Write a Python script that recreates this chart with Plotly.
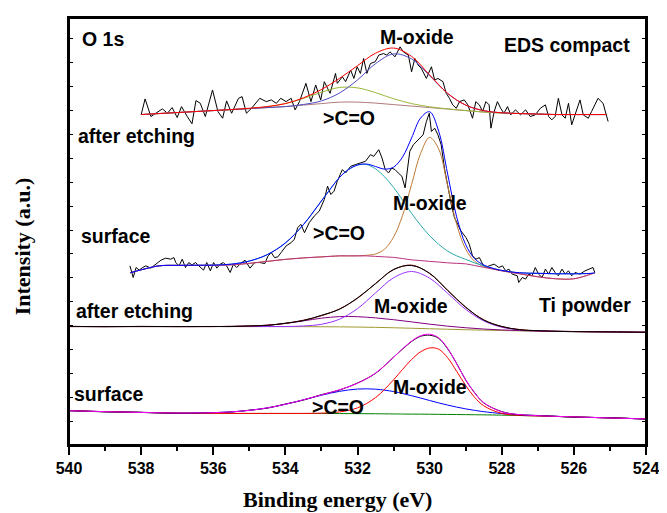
import plotly.graph_objects as go

# ---------------- Spectrum 1: EDS compact, after etching ----------------
raw1_E = [538.00, 537.89, 537.73, 537.41, 537.27, 537.14, 537.00, 536.88, 536.72, 536.59,
          536.48, 536.36, 536.22, 536.02, 535.87, 535.74, 535.63, 535.49, 535.30, 535.20,
          535.08, 534.94, 534.71, 534.53, 534.39, 534.25, 534.13, 533.98, 533.84, 533.73,
          533.61, 533.43, 533.29, 533.16, 533.02, 532.92, 532.76, 532.61,
          532.56, 532.42, 532.33, 532.19, 532.10, 532.01, 531.92, 531.83, 531.74, 531.64,
          531.51, 531.41, 531.28, 531.19, 531.10, 530.96, 530.82, 530.73, 530.59, 530.50,
          530.41, 530.32, 530.23, 530.09, 529.95, 529.86, 529.77, 529.63, 529.54, 529.45,
          529.36, 529.26, 529.17, 529.04, 528.94, 528.81, 528.72, 528.62, 528.53, 528.44,
          528.35, 528.30, 528.21, 528.12, 528.03, 527.94, 527.84, 527.75, 527.62, 527.48,
          527.34, 527.21, 527.07, 526.93, 526.79, 526.70, 526.61, 526.52, 526.43, 526.33,
          526.24, 526.15, 526.06, 525.97, 525.83, 525.74, 525.60, 525.51, 525.33, 525.19,
          525.10, 525.05]
raw1_I = [331.7, 347.7, 330, 337.7, 333.3, 339, 329, 340, 330, 322.7,
          346, 343.3, 330, 356.7, 335, 328.3, 345.7, 333.3, 348.3, 350,
          333.3, 338.3, 348.3, 345, 346.7, 343.3, 348.3, 345, 348.3, 336.7,
          345, 363.3, 345, 361.7, 346.7, 365, 353.3, 373.3,
          363.3, 370, 365, 376.7, 368.3, 380, 373.3, 388.3, 373.3, 383.3,
          385, 391.7, 393.3, 391.7, 395, 390, 400, 395, 391.7, 375,
          388.3, 381.7, 378.3, 368.3, 380, 366.7, 368.3, 365, 353.3, 348.3,
          341.7, 338.3, 345, 346.7, 341.7, 328.3, 345, 341.7, 335, 345,
          341.7, 318.3, 335, 345, 338.3, 333.3, 340, 331.7, 336.7, 331.7,
          336.7, 330, 331.7, 338.3, 341.7, 330, 326.7, 330, 348.3, 331.7,
          328.3, 343.3, 321.7, 331.7, 346.7, 331.7, 328.3, 335, 348.3, 343.3,
          331.7, 325]
fit1_E = [538.0, 537.5, 537.0, 536.5, 536.0, 535.5, 535.0, 534.5, 534.0, 533.5, 533.0,
          532.5, 532.0, 531.5, 531.0, 530.5, 530.0, 529.5, 529.0, 528.5, 528.0, 527.5,
          527.0, 526.5, 526.0, 525.5, 525.1]
bg1 = [332, 333, 334, 335, 336, 337, 338, 339, 340, 341.5, 343, 344.5, 344.5, 343.5,
       342, 340.5, 339, 337.5, 336, 334.5, 333.5, 333, 332.5, 332, 332, 332, 332]
co1 = [332, 333, 334, 335, 336, 337, 338, 340, 343, 348.2, 354.4, 359.2, 358.8, 354,
       347.9, 343, 339.8, 337.7, 336, 334.5, 333.5, 333, 332.5, 332, 332, 332, 332]
mox1 = [332, 333, 334, 335, 336, 337, 338, 339, 340, 342.1, 345.7, 353.6, 366.8, 383.1,
        392.9, 387.9, 371, 353.1, 341.5, 335.9, 333.8, 333, 332.5, 332, 332, 332, 332]
env1 = [332, 333, 334, 335, 336, 337, 338.3, 340, 343, 348.8, 357.1, 368.3, 381.1, 393.6,
        398.8, 390.4, 371.8, 353.3, 341.5, 335.9, 333.8, 333, 332.5, 332, 332, 332, 332]

# ---------------- Spectrum 2: EDS compact, surface ----------------
raw2_E = [538.31, 538.22, 538.14, 538.05, 537.96, 537.87, 537.73, 537.59, 537.45, 537.32,
          537.18, 537.09, 537.04, 536.95, 536.86, 536.77, 536.68, 536.59, 536.49, 536.40,
          536.27, 536.18, 536.08, 535.99, 535.90, 535.81, 535.72, 535.63, 535.53, 535.44,
          535.35, 535.26, 535.12, 534.98, 534.85, 534.71, 534.57, 534.48, 534.39, 534.30,
          534.21, 534.12, 533.98, 533.84, 533.75, 533.66, 533.57, 533.47, 533.34, 533.20,
          533.06, 532.92, 532.83, 532.74, 532.65,
          532.56, 532.42, 532.33, 532.19, 532.06, 531.92, 531.78, 531.64, 531.55, 531.41,
          531.32, 531.23, 531.14, 531.05, 530.96, 530.87, 530.77, 530.68, 530.64, 530.55,
          530.45, 530.32, 530.18, 530.09, 530.01, 529.95, 529.86, 529.77, 529.68, 529.59,
          529.49, 529.40, 529.31, 529.22, 529.13, 528.99, 528.90, 528.81, 528.72, 528.62,
          528.53, 528.44, 528.35, 528.21, 528.08, 527.98, 527.89, 527.80, 527.71, 527.57,
          527.53, 527.43, 527.34, 527.25, 527.16, 527.07, 526.98, 526.88, 526.79, 526.70,
          526.61, 526.52, 526.43, 526.33, 526.24, 526.15, 526.06, 525.97, 525.83, 525.69,
          525.56, 525.47, 525.42]
raw2_I = [180, 168.3, 178.3, 175.7, 178.3, 180, 177.7, 181.7, 185.7, 187.7,
          186.7, 188.3, 183.3, 180, 186.7, 178.3, 183.3, 181, 183.3, 180,
          175.7, 183.3, 175, 183.3, 177.7, 181.7, 183.3, 180, 173.3, 181.7,
          178.3, 181.7, 185.7, 177.7, 183.3, 183.3, 182.3, 190, 193.3, 188.3,
          189, 193.3, 200, 203.3, 206.7, 218.3, 221.7, 213.3, 223.3, 230,
          235, 246.7, 260, 251.7, 255,
          265, 276.7, 273.3, 280, 281.7, 283.3, 285, 291.7, 290, 296.7,
          288.3, 276.7, 273.3, 278.3, 276.7, 273.3, 270, 258.3, 268.3, 295,
          301.7, 306.7, 311.7, 325, 333.3, 315, 318.3, 311.7, 301.7, 278.3,
          258.3, 241.7, 228.3, 221.7, 215, 208.3, 201.7, 190, 186.7, 188.3,
          181.7, 178.3, 180, 181.7, 178.3, 180, 175, 176.7, 171.7, 170,
          163.3, 168.3, 166.7, 171.7, 170, 178.3, 171.7, 168.3, 176.7, 171.7,
          178.3, 173.3, 170, 176.7, 171.7, 175, 170, 173.3, 171.7, 175,
          176.7, 178.3, 173.3]
fit2_E = [538.3, 538.0, 537.5, 537.0, 536.5, 536.0, 535.5, 535.0, 534.5, 534.0, 533.5,
          533.0, 532.5, 532.25, 532.0, 531.75, 531.5, 531.25, 531.0, 530.75, 530.5,
          530.25, 530.0, 529.75, 529.5, 529.25, 529.0, 528.75, 528.5, 528.25, 528.0,
          527.5, 527.0, 526.5, 526.0, 525.5, 525.42]
bg2 = [173, 176, 180, 180.5, 180.5, 180.5, 181, 182.5, 184.5, 186.5, 188, 189, 190, 190,
       190, 190, 189.5, 189, 188.5, 187.3, 186, 185.3, 184.5, 183.8, 183, 182.5, 182,
       180.3, 178.5, 176.8, 175, 172, 169, 167, 167, 172, 173]
co2 = [173, 176, 180, 180.5, 180.6, 180.7, 181.7, 184.8, 191.3, 203, 221.4, 245.2, 268.7,
       276.7, 281.2, 281.7, 277.4, 269.5, 258.8, 246, 232.7, 220.8, 210.3, 201.7, 194.8,
       190, 186.5, 182.9, 179.9, 177.5, 175.4, 173, 172.5, 172, 172, 172.5, 173]
mox2 = [173, 176, 180, 180.5, 180.5, 180.5, 181, 182.5, 184.5, 186.5, 188, 189, 190, 190,
        190.1, 190.6, 191.9, 196.7, 208.8, 230.7, 261.8, 293, 309, 297.5, 260.4, 221.7,
        196.8, 184.5, 179.4, 176.9, 175, 172, 169, 167, 167, 172, 173]
env2 = [173, 176, 180, 180.5, 180.6, 180.7, 181.7, 184.8, 191.3, 203, 221.4, 245.2, 268.7,
        276.7, 281.3, 282.3, 279.8, 277.2, 279.1, 289.4, 308.5, 328.5, 334.8, 315.4,
        272.2, 229.2, 201.3, 187.1, 180.8, 177.6, 175.4, 173, 172.5, 172, 172, 172.5, 173]

# ---------------- Spectrum 3: Ti powder, after etching ----------------
fit3_E = [540, 539, 538, 537, 536, 535.5, 535, 534.5, 534, 533.5, 533, 532.5, 532, 531.5,
          531, 530.5, 530, 529.5, 529, 528.5, 528, 527.5, 527, 526, 525, 524]
bg3 = [119, 119, 119, 119, 119, 119, 119, 119, 118.9, 118.9, 118.8, 118.7, 118.5, 118.2,
       117.8, 117.3, 116.8, 116.3, 115.8, 115.4, 115, 114.7, 114.4, 114, 113.6, 113.3]
mox3 = [119, 119, 119, 119, 119, 119, 119, 119, 119, 119.6, 121.3, 126.4, 137, 152.8,
        168, 174.3, 167.6, 152.4, 136.3, 124.7, 118.3, 115.7, 114.6, 114, 113.6, 113.3]
co3 = [119, 119, 119, 119, 119, 119.2, 119.5, 120.4, 122.1, 124.7, 127.4, 129, 128.9,
       127.7, 125.9, 123.7, 121.4, 119.4, 117.8, 116.5, 115.6, 115, 114.5, 114, 113.6, 113.3]
env3 = [119, 119, 119, 119, 119, 119.2, 119.5, 120.4, 122.2, 125.4, 129.9, 136.7, 147.4,
        162.3, 176.1, 180.7, 172.2, 155.5, 138.3, 125.8, 118.9, 116, 114.7, 114, 113.6, 113.3]
raw3 = [119.3, 118.8, 119.2, 118.9, 119.1, 119.0, 119.6, 120.1, 122.4, 125.0, 130.3, 136.4,
        147.8, 162.0, 176.4, 180.3, 172.6, 155.2, 138.6, 125.5, 119.2, 115.8, 114.9, 113.8,
        113.7, 113.2]

# ---------------- Spectrum 4: Ti powder, surface ----------------
fit4_E = [540, 539, 538, 537, 536, 535.5, 535, 534.5, 534, 533.5, 533, 532.5, 532, 531.5,
          531, 530.75, 530.5, 530.25, 530, 529.75, 529.5, 529.25, 529, 528.75, 528.5, 528,
          527.5, 527, 526, 525, 524]
bg4 = [34.5, 33.5, 32.7, 32, 31.8, 31.7, 31.7, 31.7, 31.7, 31.7, 31.7, 31.6, 31.5, 31.4,
       31.2, 31.1, 31, 31, 30.9, 30.8, 30.7, 30.6, 30.5, 30.4, 30.3, 30, 29.6, 29.2, 28.2,
       27.2, 26.2]
mox4 = [34.5, 33.5, 32.7, 32, 31.8, 31.7, 31.7, 31.7, 31.7, 31.7, 32, 33.2, 37.3, 47.6,
        65.5, 76, 85.9, 93.6, 97.5, 96.3, 87.6, 74.1, 59.8, 47.8, 39.4, 31.7, 29.8, 29.2,
        28.2, 27.2, 26.2]
co4 = [34.5, 33.5, 32.7, 32.1, 32.5, 33.3, 34.8, 37.3, 40.9, 45.4, 50, 53.9, 56.2, 56.1,
       53.7, 51.8, 49.5, 47.2, 44.7, 42.3, 40.1, 38.1, 36.3, 34.8, 33.5, 31.6, 30.35, 29.5,
       28.2, 27.2, 26.2]
env4 = [34.5, 33.5, 32.7, 32.1, 32.5, 33.3, 34.8, 37.3, 40.9, 45.4, 50.3, 55.5, 62, 72.3,
        88, 96.7, 104.4, 109.8, 111.3, 107.8, 97, 81.6, 65.6, 52.2, 42.6, 33.3, 30.55, 29.5,
        28.2, 27.2, 26.2]
raw4 = [34.6, 33.3, 32.9, 31.8, 32.6, 33.1, 35.0, 37.0, 41.2, 45.1, 50.6, 55.2, 62.3, 72.0,
        88.3, 96.4, 104.0, 109.2, 110.3, 107.2, 96.6, 81.9, 65.2, 52.5, 42.3, 33.6, 30.3,
        29.7, 28.0, 27.4, 26.0]

x_ticks = [540, 538, 536, 534, 532, 530, 528, 526, 524]

fig = go.Figure()


def add(x, y, color, width=1.0, shape="spline"):
    fig.add_trace(go.Scatter(x=x, y=y, mode="lines", line=dict(color=color, width=width, shape=shape),
                             hoverinfo="skip", showlegend=False))


# spectrum 4 (bottom)
add(fit4_E, bg4, "#008000")
add(fit4_E, co4, "#0000ff")
add(fit4_E, mox4, "#ff0000")
add(fit4_E, raw4, "#000000")
add(fit4_E, env4, "#ff00ff")
# spectrum 3
add(fit3_E, bg3, "#a09a30")
add(fit3_E, co3, "#800080")
add(fit3_E, mox3, "#9b30ff")
add(fit3_E, env3, "#800000")
add(fit3_E, raw3, "#000000")
# spectrum 2
add(raw2_E, raw2_I, "#000000", 1.0, "linear")
add(fit2_E, mox2, "#c07a35")
add(fit2_E, co2, "#2aa8a8")
add(fit2_E, bg2, "#b8307f")
add(fit2_E, env2, "#0000ff")
# spectrum 1 (top)
add(raw1_E, raw1_I, "#000000", 1.0, "linear")
add(fit1_E, bg1, "#b07a7a")
add(fit1_E, co1, "#9ab83a")
add(fit1_E, mox1, "#4b4bc0")
add(fit1_E, env1, "#ff0000")

lab_font = dict(family="Liberation Sans, Arial, sans-serif", size=19.5, color="black", weight="bold")
labels = [
    ("O 1s", 539.70, 408, "left"),
    ("M-oxide", 530.34, 410, "center"),
    ("EDS compact", 526.18, 402, "center"),
    (">C=O", 532.23, 329, "center"),
    ("after etching", 539.81, 310, "left"),
    ("surface", 539.73, 210, "left"),
    (">C=O", 532.50, 213, "center"),
    ("M-oxide", 529.98, 243, "center"),
    ("after etching", 539.86, 135, "left"),
    ("M-oxide", 530.53, 140, "center"),
    ("Ti powder", 525.69, 141, "center"),
    ("surface", 539.92, 51, "left"),
    (">C=O", 532.53, 38, "center"),
    ("M-oxide", 529.98, 58, "center"),
]
for txt, xx, yy, anc in labels:
    fig.add_annotation(x=xx, y=yy, xref="x", yref="y", text=txt, showarrow=False,
                       xanchor=anc, yanchor="middle", font=lab_font)

title_font = dict(family="Liberation Serif, Times New Roman, serif", size=22, color="black", weight="bold")
fig.add_annotation(x=0.465, y=-0.128, xref="paper", yref="paper", yanchor="middle", text="Binding energy (eV)",
                   showarrow=False, font=title_font)
fig.add_annotation(x=-0.081, y=0.466, xref="paper", yref="paper", xanchor="center", text="Intensity (a.u.)",
                   showarrow=False, textangle=-90, font=title_font)

# full plot frame
fig.add_shape(type="rect", xref="paper", yref="paper", x0=0, y0=0, x1=1, y1=1,
              line=dict(color="black", width=2), fillcolor="rgba(0,0,0,0)", layer="above")

fig.update_xaxes(range=[540, 524], tickvals=x_ticks, ticktext=[str(v) for v in x_ticks],
                 ticks="outside", ticklen=8, tickwidth=1.5, tickcolor="black",
                 minor=dict(dtick=1, tick0=0, ticks="outside", ticklen=4, tickwidth=1.5, tickcolor="black"),
                 showline=True, linewidth=2, linecolor="black", mirror=True,
                 showgrid=False, zeroline=False,
                 tickfont=dict(family="Liberation Sans, Arial, sans-serif", size=16, color="black", weight="bold"))
fig.update_yaxes(range=[0, 429], tick0=0, dtick=24, showticklabels=False,
                 ticks="inside", ticklen=4, tickwidth=1.2, tickcolor="black",
                 showline=True, linewidth=2, linecolor="black", mirror="ticks",
                 showgrid=False, zeroline=False)
# the page body adds an 8 px offset, so the figure is 8 px smaller and margins shifted
fig.update_layout(width=659, height=505, margin=dict(l=61, r=15, t=8, b=68),
                  plot_bgcolor="white", paper_bgcolor="white", showlegend=False)

fig.write_html("out.html")
